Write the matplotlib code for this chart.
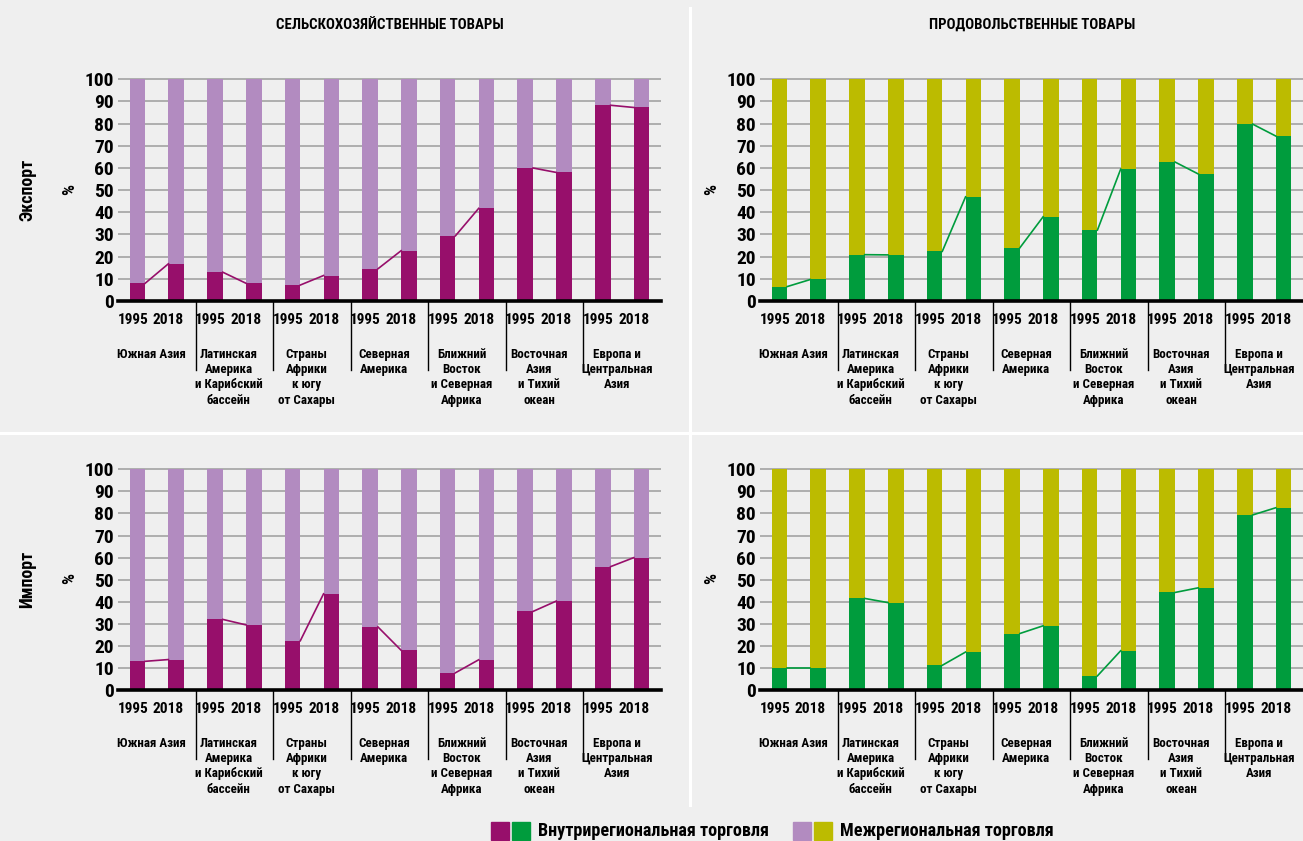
import matplotlib
matplotlib.use("Agg")
import matplotlib.pyplot as plt
from matplotlib import font_manager
from matplotlib.patches import Rectangle
from matplotlib.lines import Line2D

# --- data (shares of intraregional trade, %) ---
regions = ["Южная Азия",
           "Латинская\nАмерика\nи Карибский\nбассейн",
           "Страны\nАфрики\nк югу\nот Сахары",
           "Северная\nАмерика",
           "Ближний\nВосток\nи Северная\nАфрика",
           "Восточная\nАзия\nи Тихий\nокеан",
           "Европа и\nЦентральная\nАзия"]
years = ["1995", "2018"]

agri_export_1995 = [8, 13, 7.2, 14.5, 29.4, 60, 88.3]
agri_export_2018 = [16.8, 8, 11.5, 22.7, 41.8, 58, 87.3]
food_export_1995 = [6.5, 20.9, 22.4, 24, 32, 62.7, 79.8]
food_export_2018 = [9.7, 20.8, 47, 38, 59.5, 57.3, 74.4]
agri_import_1995 = [13, 32, 22.3, 28.6, 7.8, 35.6, 55.9]
agri_import_2018 = [13.8, 29.5, 43.6, 18, 13.7, 40.3, 60]
food_import_1995 = [10, 41.5, 11.2, 25.6, 6.4, 44.2, 79.3]
food_import_2018 = [10, 39.6, 17.2, 29.1, 17.8, 46.3, 82.6]

panel_titles = ["СЕЛЬСКОХОЗЯЙСТВЕННЫЕ ТОВАРЫ", "ПРОДОВОЛЬСТВЕННЫЕ ТОВАРЫ"]
row_labels = ["Экспорт", "Импорт"]
legend_labels = ["Внутрирегиональная торговля", "Межрегиональная торговля"]

PURPLE_DARK, PURPLE_LIGHT = "#970f6b", "#b28bc0"
GREEN, OLIVE = "#009c3d", "#bcbb00"
BG = "#efefef"

# --- font: the original uses a condensed bold face; take a narrow one if present ---
names = {f.name for f in font_manager.fontManager.ttflist}
FAM, k = "Roboto", 1.0
for cand, kk in [("Liberation Sans Narrow", 1.08), ("Roboto Condensed", 1.08),
                 ("Open Sans Condensed", 1.0)]:
    if cand in names:
        FAM, k = cand, kk
        break
font = dict(family=[FAM, "DejaVu Sans"], fontweight="bold")

W, H = 1303, 841
fig = plt.figure(figsize=(W / 100, H / 100), dpi=100, facecolor=BG)


def fx(px):
    return px / W


def fy(py):
    return 1 - py / H


# white dividers
fig.add_artist(Line2D([fx(690), fx(690)], [fy(8), fy(805)], color="white", lw=2.2,
                      transform=fig.transFigure))
fig.add_artist(Line2D([0, 1], [fy(433), fy(433)], color="white", lw=2.2,
                      transform=fig.transFigure))


def draw_panel(left_px, top_px, bottom_px, v1995, v2018, dark, light):
    ax = fig.add_axes([fx(left_px), fy(bottom_px), fx(543), (bottom_px - top_px) / H])
    ax.set_facecolor("none")
    ax.set_xlim(0, 7)
    ax.set_ylim(0, 100.6)
    for v in range(10, 101, 10):
        ax.axhline(v, color="#a9a9a9", lw=1.3, zorder=0)
    for s in ["top", "right", "left"]:
        ax.spines[s].set_visible(False)
    ax.spines["bottom"].set_linewidth(2.6)
    ax.spines["bottom"].set_zorder(5)
    ax.set_xticks([])
    ax.set_yticks(range(0, 101, 10))
    ax.set_yticklabels([str(v) for v in range(0, 101, 10)], fontsize=13 * k, **font)
    ax.tick_params(axis="y", length=0, pad=3)

    for i in range(7):
        xs = [i + 0.25, i + 0.75]
        vals = [v1995[i], v2018[i]]
        ax.bar(xs, vals, width=0.2, color=dark, zorder=2)
        ax.bar(xs, [100 - v for v in vals], bottom=vals, width=0.2, color=light, zorder=2)
        ax.plot([xs[0] + 0.1, xs[1] - 0.1], vals, color=dark, lw=1.2, zorder=3)
        for x, yr in zip([i + 0.19, i + 0.65], years):
            ax.annotate(yr, xy=(x, 0), xycoords=ax.get_xaxis_transform(),
                        xytext=(0, -19 * 0.72), textcoords="offset points",
                        ha="center", va="center", fontsize=10.3 * k, **font)
        ax.annotate(regions[i], xy=(i + 0.43, 0), xycoords=ax.get_xaxis_transform(),
                    xytext=(0, -47 * 0.72), textcoords="offset points",
                    ha="center", va="top", fontsize=8.7 * k, linespacing=1.22, **font)
        if i > 0:
            ax.plot([i, i], [0, -69 / (bottom_px - top_px)], color="black", lw=1,
                    transform=ax.get_xaxis_transform(), clip_on=False, zorder=4)
    fig.text(fx(left_px - 48), fy((top_px + bottom_px) / 2), "%", rotation=90,
             ha="center", va="center", fontsize=11.5 * k, **font)
    return ax


draw_panel(118, 78, 301, agri_export_1995, agri_export_2018, PURPLE_DARK, PURPLE_LIGHT)
draw_panel(760, 78, 301, food_export_1995, food_export_2018, GREEN, OLIVE)
draw_panel(118, 468, 690, agri_import_1995, agri_import_2018, PURPLE_DARK, PURPLE_LIGHT)
draw_panel(760, 468, 690, food_import_1995, food_import_2018, GREEN, OLIVE)

# column titles
fig.text(fx(390), fy(25), panel_titles[0], ha="center", va="center", fontsize=9.9 * k, **font)
fig.text(fx(1032), fy(25), panel_titles[1], ha="center", va="center", fontsize=9.9 * k, **font)

# row labels
fig.text(fx(27), fy(190), row_labels[0], rotation=90, ha="center", va="center",
         fontsize=11.9 * k, **font)
fig.text(fx(27), fy(579), row_labels[1], rotation=90, ha="center", va="center",
         fontsize=11.9 * k, **font)

# legend
for x0, c1, c2, label in [(491, PURPLE_DARK, GREEN, legend_labels[0]),
                          (793, PURPLE_LIGHT, OLIVE, legend_labels[1])]:
    fig.add_artist(Rectangle((fx(x0), fy(840)), fx(18), 18 / H, color=c1,
                             transform=fig.transFigure))
    fig.add_artist(Rectangle((fx(x0 + 21), fy(840)), fx(18), 18 / H, color=c2,
                             transform=fig.transFigure))
    fig.text(fx(x0 + 47), fy(831), label, ha="left", va="center", fontsize=12.1 * k, **font)

fig.savefig("out.png", dpi=100, facecolor=BG)
